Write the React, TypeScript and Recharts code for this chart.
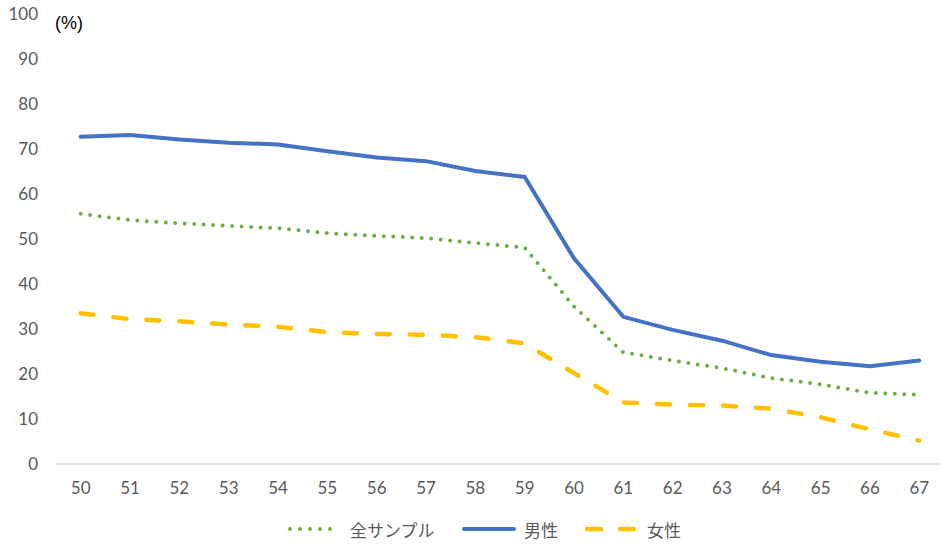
import React from 'react';
import { LineChart, Line, XAxis, YAxis, Legend } from 'recharts';

const ages = ['50','51','52','53','54','55','56','57','58','59','60','61','62','63','64','65','66','67'];
const allSample = [55.6,54.2,53.5,52.9,52.4,51.3,50.7,50.2,49.1,48.1,35.0,24.8,23.0,21.3,19.1,17.7,15.8,15.4];
const male = [72.7,73.1,72.1,71.4,71.0,69.5,68.1,67.3,65.1,63.8,45.7,32.7,29.8,27.4,24.2,22.7,21.7,23.0];
const female = [33.5,32.2,31.7,31.0,30.5,29.3,28.9,28.7,28.2,26.8,20.2,13.7,13.2,13.0,12.3,10.4,7.7,5.2];
const yTicks = [0,10,20,30,40,50,60,70,80,90,100];

const labels = { all: '全サンプル', male: '男性', female: '女性' };
const colors = { all: '#70AD47', male: '#4472C4', female: '#FFC000' };

const data = ages.map((a, i) => ({ age: a, all: allSample[i], male: male[i], female: female[i] }));

const numFont = 'Lato, "Open Sans", sans-serif';
const jpFont = '"Noto Sans CJK JP", sans-serif';

const LegendContent = () => {
  const item = (key: 'all' | 'male' | 'female', textW: number, last: boolean) => (
    <div style={{ display: 'flex', alignItems: 'center', marginRight: last ? 0 : 26 }}>
      <svg width={54} height={10} style={{ marginRight: 8 }}>
        {key === 'all' && (
          <line x1={2} y1={5} x2={52} y2={5} stroke={colors.all} strokeWidth={4} strokeLinecap="round" strokeDasharray="0 10" />
        )}
        {key === 'male' && (
          <line x1={2} y1={5} x2={52} y2={5} stroke={colors.male} strokeWidth={4} strokeLinecap="round" />
        )}
        {key === 'female' && (
          <line x1={2} y1={5} x2={52} y2={5} stroke={colors.female} strokeWidth={4.5} strokeLinecap="round" strokeDasharray="14 19" />
        )}
      </svg>
      <span style={{ fontFamily: jpFont, fontSize: 17, color: '#595959', width: textW, whiteSpace: 'nowrap' }}>{labels[key]}</span>
    </div>
  );
  return (
    <div style={{ width: 940, height: 30, display: 'flex', alignItems: 'center', paddingLeft: 288, boxSizing: 'border-box' }}>
      {item('all', 86, false)}
      {item('male', 35, false)}
      {item('female', 36, true)}
    </div>
  );
};

export default function App() {
  return (
    <div style={{ position: 'absolute', left: 0, top: 0, width: 940, height: 546, overflow: 'hidden', background: '#fff' }}>
      <LineChart width={944} height={546} data={data} margin={{ top: 14, right: 0, bottom: 2, left: 0 }}>
        <XAxis
          dataKey="age"
          height={50}
          tickSize={0}
          tickMargin={18}
          padding={{ left: 24.7, right: 24.7 }}
          axisLine={{ stroke: '#D9D9D9', strokeWidth: 1.5 }}
          tick={{ fill: '#595959', fontSize: 17, fontFamily: numFont }}
          interval={0}
        />
        <YAxis
          domain={[0, 100]}
          ticks={yTicks}
          width={56}
          tickSize={0}
          tickMargin={18}
          axisLine={false}
          tick={{ fill: '#595959', fontSize: 17, fontFamily: numFont }}
          interval={0}
        />
        <Legend verticalAlign="bottom" content={<LegendContent />} />
        <Line type="linear" dataKey="all" name={labels.all} stroke={colors.all} strokeWidth={4} strokeLinecap="round" strokeDasharray="0 9.5" dot={false} isAnimationActive={false} />
        <Line type="linear" dataKey="male" name={labels.male} stroke={colors.male} strokeWidth={4} strokeLinecap="round" dot={false} isAnimationActive={false} />
        <Line type="linear" dataKey="female" name={labels.female} stroke={colors.female} strokeWidth={4.5} strokeLinecap="round" strokeDasharray="13 20" dot={false} isAnimationActive={false} />
      </LineChart>
      <div style={{ position: 'absolute', left: 55, top: 12, fontFamily: '"Liberation Sans", Arial, sans-serif', fontSize: 18, lineHeight: '22px', color: '#000' }}>(%)</div>
    </div>
  );
}
